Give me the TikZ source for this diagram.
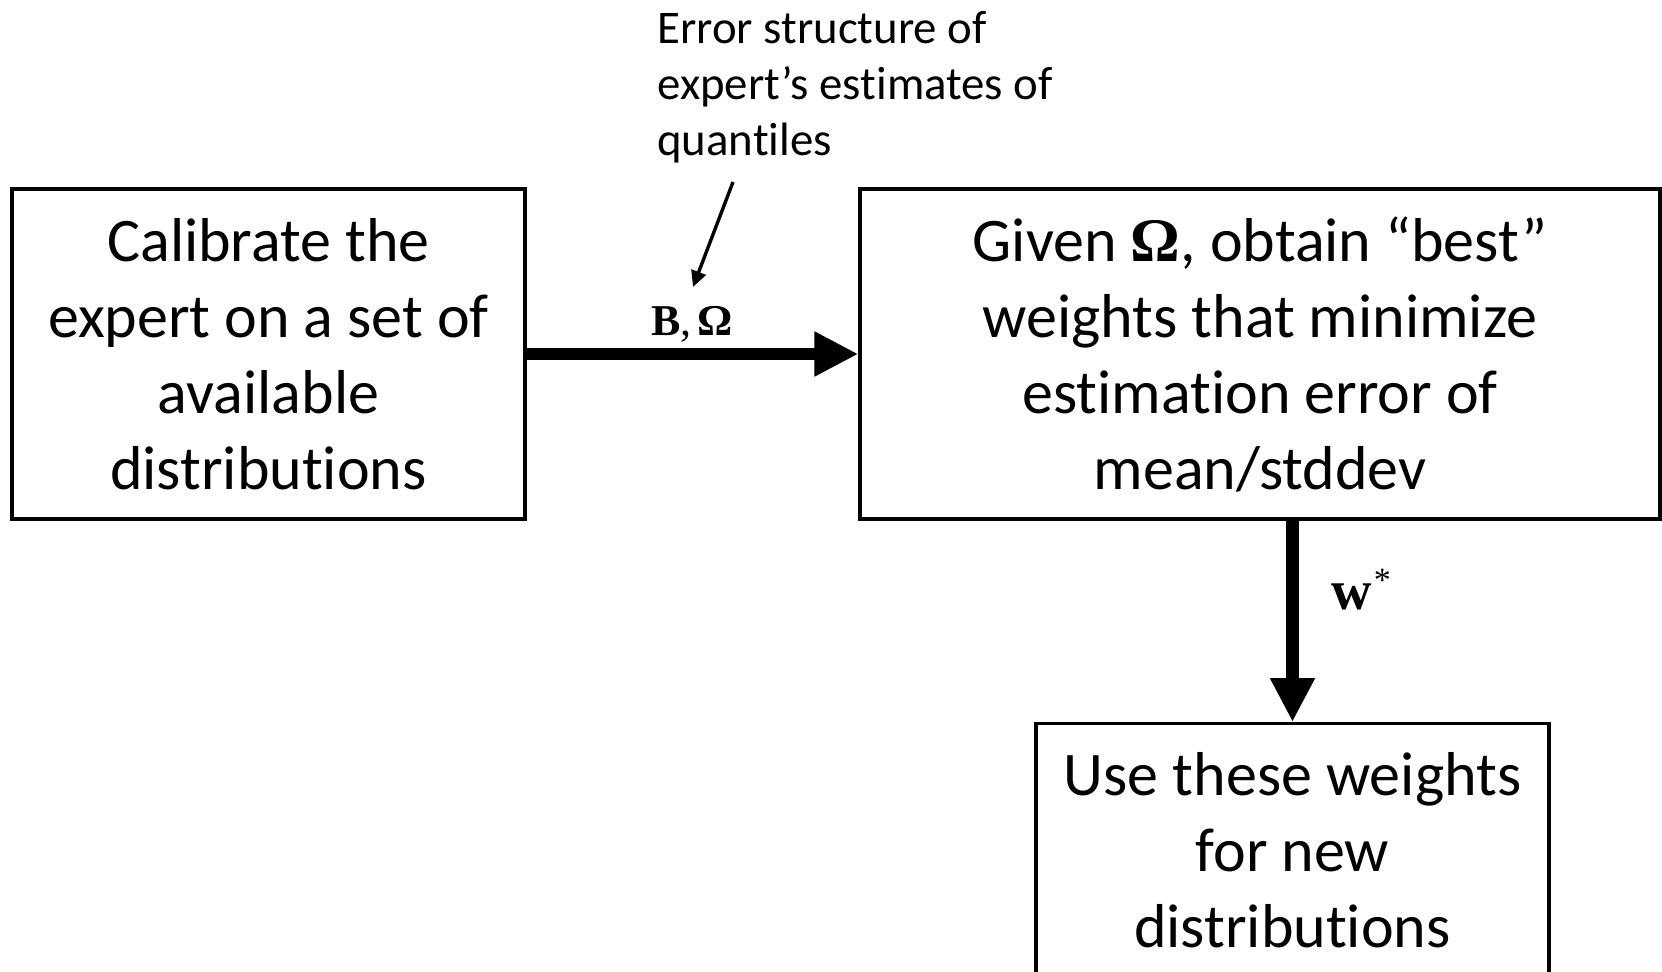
\documentclass[tikz,border=0pt]{standalone}
\usepackage[no-math]{fontspec}
\setmainfont{Carlito}[Ligatures=NoCommon]
\newfontfamily\mserif{Liberation Serif}
\usetikzlibrary{arrows.meta}
\newcommand{\bsym}[1]{{\mserif\bfseries #1}}
\begin{document}
\begin{tikzpicture}[x=0.5pt,y=-0.5pt,
  box/.style={draw, line width=1.6pt, align=center, inner sep=0pt,
    font=\fontsize{31}{38}\selectfont},
  flow/.style={line width=6.4pt, -{Triangle[length=22pt,width=21pt]}},
  note/.style={line width=1.7pt, -{Triangle[length=8pt,width=7.5pt]}},
  mathlbl/.style={font=\fontsize{22}{26}\selectfont, inner sep=0pt},
  notetext/.style={align=left, inner sep=0pt, font=\fontsize{23.4}{28}\selectfont}]
\useasboundingbox (0,0) rectangle (1662,971);
\node[box, minimum width=256.5pt, minimum height=165pt] (L) at (268.5,354)
  {Calibrate the\\expert on a set of\\available\\distributions};
\node[box, minimum width=400pt, minimum height=165pt] (R) at (1260,354)
  {Given \bsym{Ω}, obtain “best”\\weights that minimize\\estimation error of\\mean/stddev};
\node[box, minimum width=256.5pt, minimum height=127pt, anchor=north] (U) at (1292.5,722)
  {Use these weights\\for new\\distributions};
\node[notetext, anchor=north west] (N) at (657,11)
  {Error structure of\\expert’s estimates of\\quantiles};
\draw[flow] (L.east) -- (R.west);
\draw[flow] (U.north |- R.south) -- (U.north);
\node[mathlbl, anchor=base] (lb) at (692,335) {\bsym{B}{\mserif,}\kern3pt\bsym{Ω}};
\node[mathlbl, anchor=base west, font=\fontsize{28}{30}\selectfont] (lw) at (1331,609)
  {\bsym{w}\kern1pt\raisebox{9pt}{\mserif\fontsize{17}{17}\selectfont *}};
\coordinate (n1) at (733,182);
\coordinate (n2) at (693,287);
\draw[note] (n1) -- (n2);
\end{tikzpicture}
\end{document}
